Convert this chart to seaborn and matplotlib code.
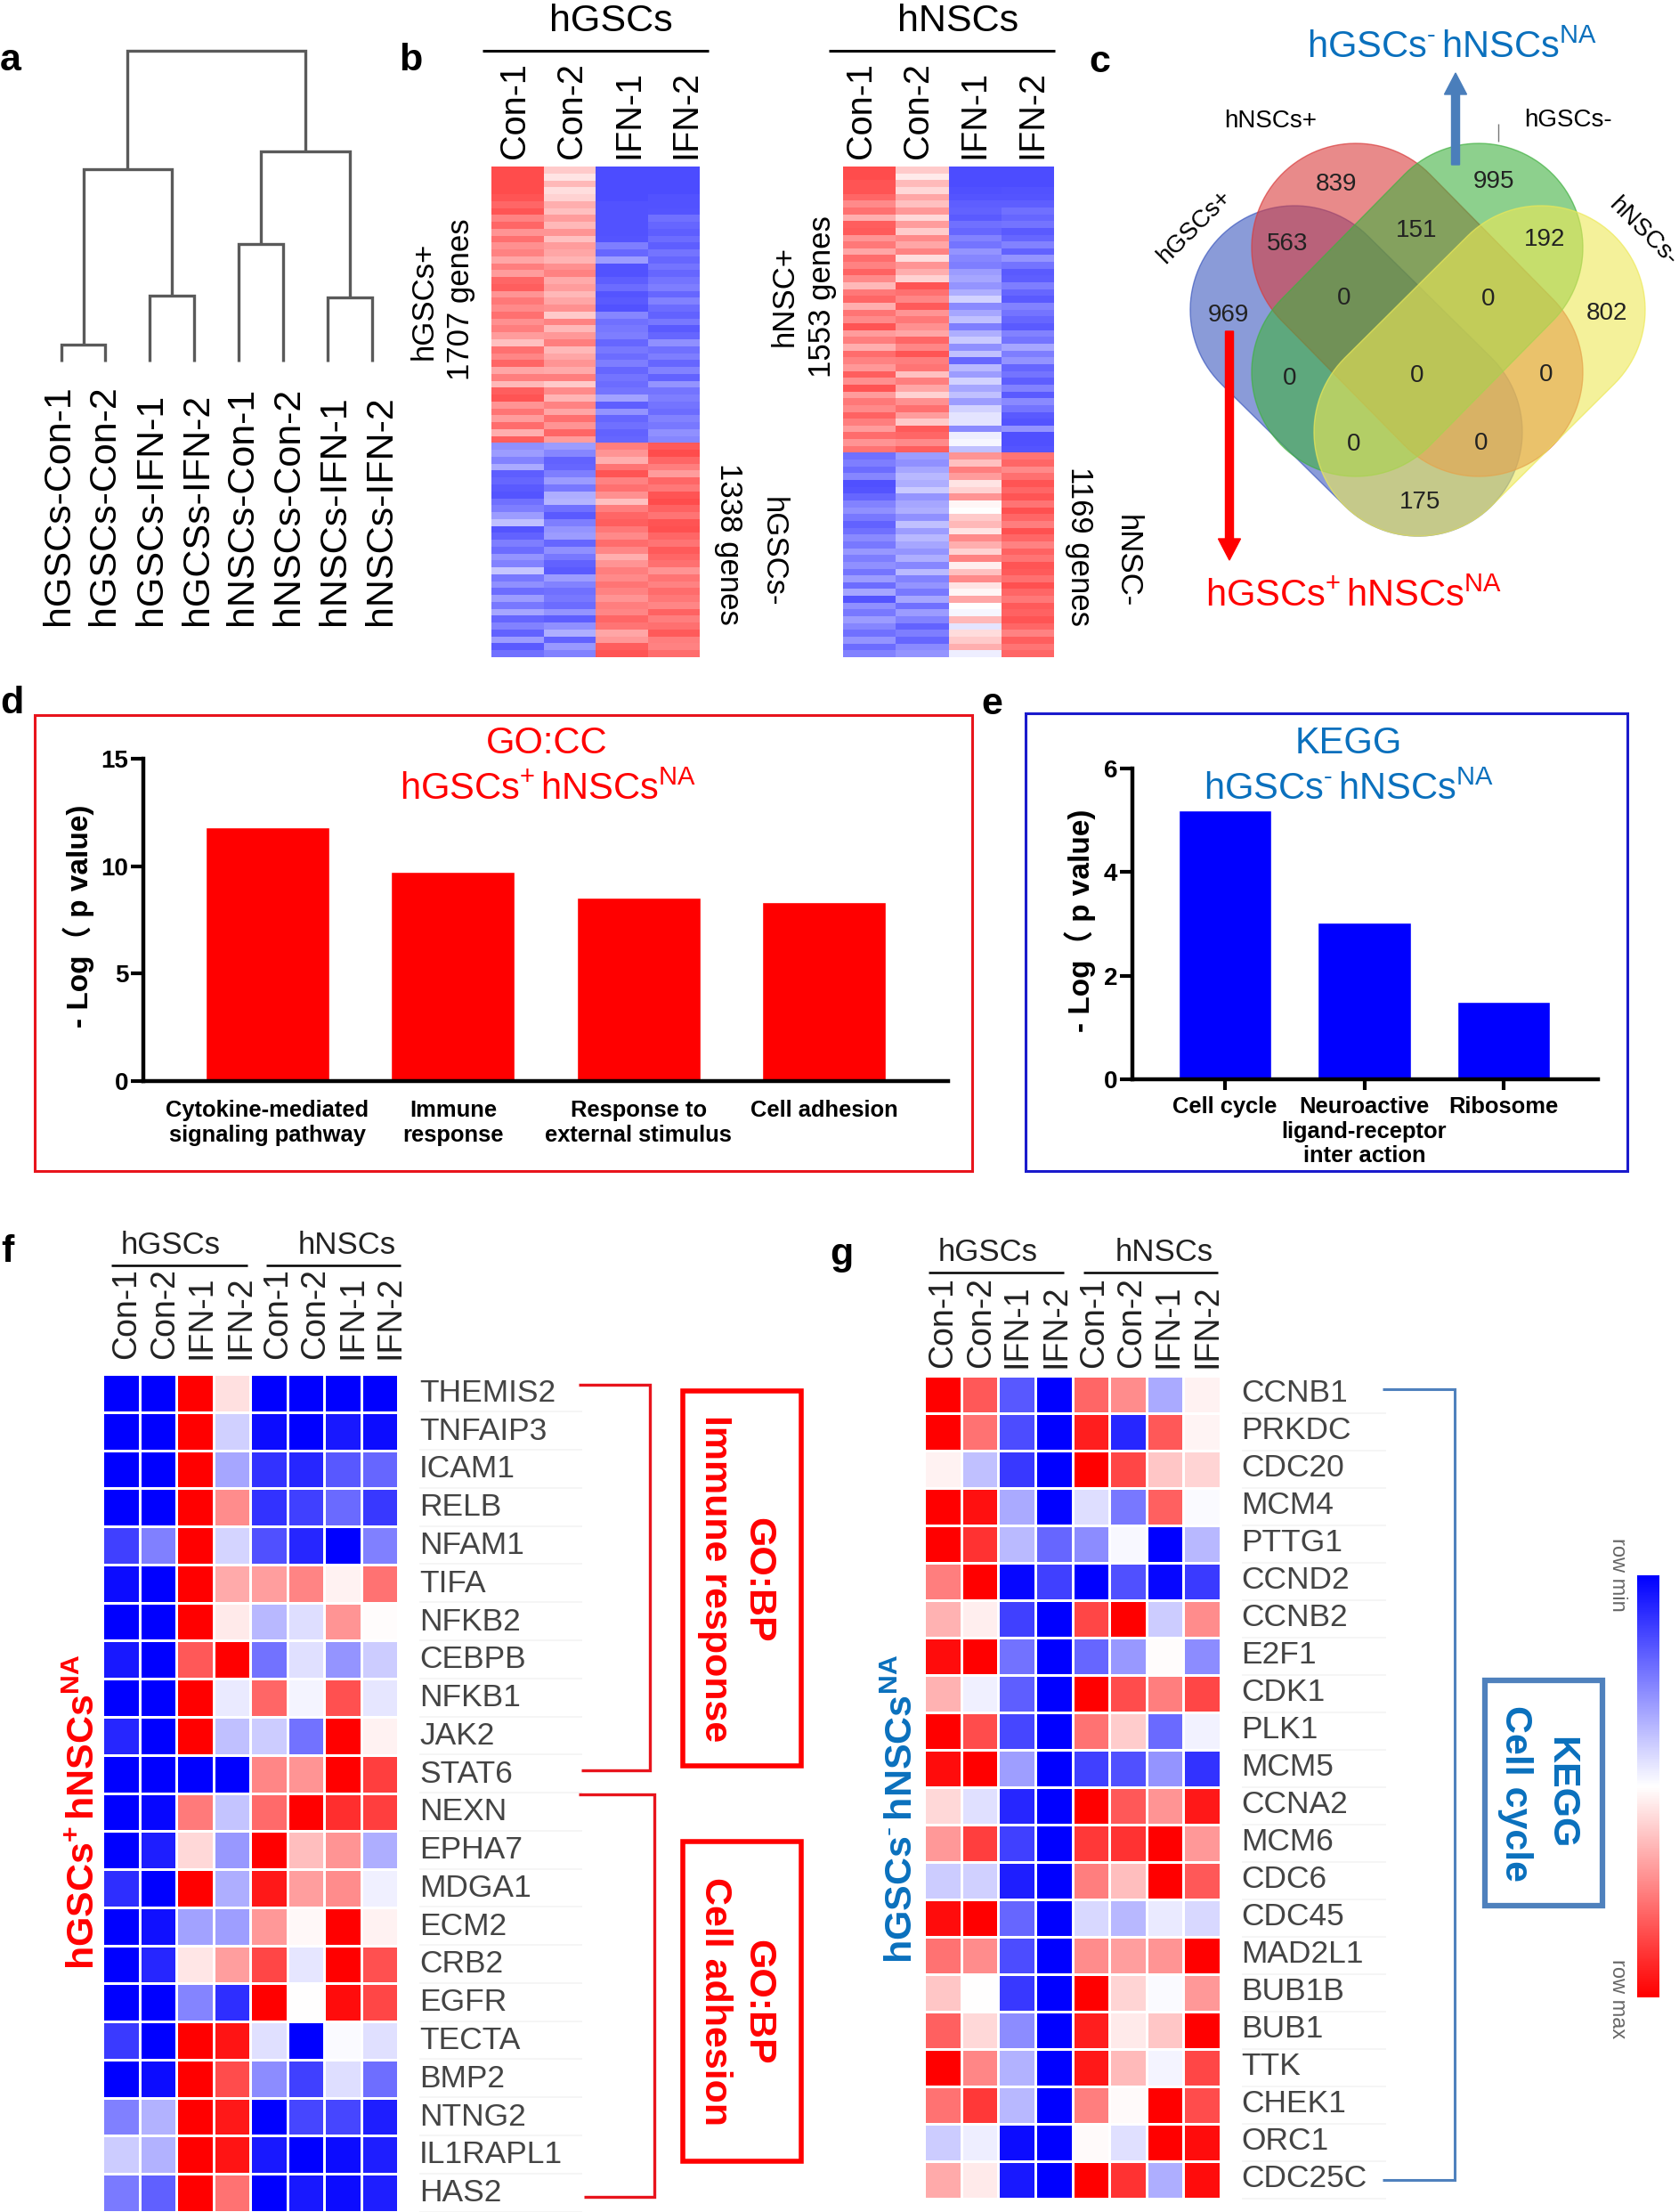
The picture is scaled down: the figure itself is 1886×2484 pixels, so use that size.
import numpy as np
import pandas as pd
import matplotlib
matplotlib.use("Agg")
import matplotlib.pyplot as plt
from matplotlib import patches
import seaborn as sns

# ---------------- data ----------------
sample_labels = ["hGSCs-Con-1", "hGSCs-Con-2", "hGSCs-IFN-1", "hGCSs-IFN-2",
                 "hNSCs-Con-1", "hNSCs-Con-2", "hNSCs-IFN-1", "hNSCs-IFN-2"]
# dendrogram: (left x, right x, parent-left height, parent-right height, merge height)
dendro_merges = [(0, 1, 0, 0, 19), (2, 3, 0, 0, 74), (4, 5, 0, 0, 132), (6, 7, 0, 0, 72),
                 (0.5, 2.5, 19, 74, 216), (4.5, 6.5, 132, 72, 236), (1.5, 5.5, 216, 236, 349)]

conds = ["Con-1", "Con-2", "IFN-1", "IFN-2"]
hgsc_up = [[1.0,.30,-1,-1],[1.0,.15,-1,-1],[1.0,.40,-1,-1],[1.0,.18,-1,-1],[.95,.25,-1,-.97],
 [.85,.45,-.97,-.97],[.95,.35,-.97,-.95],[.70,.55,-.97,-.80],[.85,.40,-.97,-.85],[.60,.60,-.97,-.90],
 [.80,.35,-.95,-.82],[.62,.55,-.72,-.90],[.70,.50,-.85,-.78],[.50,.42,-.55,-.85],[.72,.62,-.97,-.78],
 [.55,.70,-.97,-.85],[.85,.48,-.90,-.78],[.90,.55,-.82,-.72],[.60,.40,-.95,-.85],[.75,.50,-.92,-.70],
 [.65,.62,-.97,-.82],[.80,.30,-.68,-.88],[.62,.70,-.80,-.75],[.72,.40,-.75,-.92],[.55,.58,-.72,-.85],
 [.35,.72,-.85,-.62],[.80,.40,-.75,-.80],[.68,.50,-.82,-.72],[.85,.60,-.72,-.85],[.50,.48,-.85,-.70],
 [.72,.72,-.78,-.88],[.40,.30,-.82,-.60],[.90,.65,-.78,-.78],[.95,.42,-.52,-.72],[.60,.70,-.90,-.78],
 [.78,.50,-.60,-.82],[.55,.80,-.85,-.70],[.82,.60,-.80,-.75],[.45,.85,-.88,-.62],[.90,.55,-.85,-.68]]
hgsc_down = [[-.62,-.55,.72,.92],[-.55,-.68,.60,1.0],[-.70,-.88,.45,.85],[-.48,-.85,.78,.72],[-.90,-.72,.95,.55],
 [-.85,-.55,.70,.85],[-.92,-.75,.80,.75],[-.95,-.45,.62,.95],[-.80,-.42,.35,1.0],[-.72,-.80,.72,.88],
 [-.55,-.92,.85,.78],[-.35,-.72,.90,.95],[-.95,-.60,.75,.98],[-.88,-.55,.65,.85],[-.72,-.85,.82,.78],
 [-.82,-.62,.68,.92],[-.60,-.75,.45,.85],[-.70,-.88,.60,.80],[-.32,-.92,.72,.60],[-.75,-.55,.65,.78],
 [-.62,-.70,.78,.70],[-.82,-.80,.70,.82],[-.55,-.75,.60,.75],[-.75,-.82,.72,.68],[-.50,-.60,.68,.88],
 [-.85,-.90,.85,.72],[-.70,-.62,.78,.80],[-.88,-.45,.50,.92],[-.55,-.88,.58,.72],[-.92,-.58,.90,.70],[-.80,-.70,.95,.82]]
hnsc_up = [[1.0,.30,-1,-1],[1.0,.12,-1,-1],[.95,.38,-1,-1],[.95,.22,-.98,-.97],[.85,.50,-.96,-.96],
 [.65,.35,-.90,-.90],[.80,.58,-.88,-.80],[.45,.22,-.92,-.85],[.90,.55,-.80,-.78],[.92,.28,-.85,-.92],
 [.60,.65,-.70,-.85],[.75,.50,-.78,-.70],[.50,.70,-.60,-.88],[.82,.20,-.68,-.60],[.70,.60,-.72,-.78],
 [.88,.45,-.55,-.92],[.65,.25,-.50,-.90],[.40,.95,-.60,-.72],[.75,.80,-.45,-.85],[.85,.68,-.25,-.92],
 [.45,.92,-.65,-.70],[.78,.60,-.50,-.78],[.65,.75,-.35,-.85],[.95,.62,-.72,-.92],[.55,.50,-.45,-.70],
 [.72,.85,-.30,-.78],[.45,.68,-.62,-.50],[.82,.95,-.35,-.72],[.70,.72,-.85,-.60],[.58,.78,-.40,-.85],
 [.90,.35,-.55,-.78],[.62,.72,-.25,-.90],[.95,.50,-.50,-.70],[.55,.25,-.35,-.92],[.75,.62,-.55,-.65],
 [.65,.80,-.25,-.78],[.88,.55,-.15,-.92],[.72,.30,-.15,-.95],[.55,.92,-.65,-.60],[.82,.85,-.10,-.98],
 [.60,.65,-.05,-.98],[.78,.90,-.35,-.95]]
hnsc_down = [[-.80,-.55,.60,.78],[-.72,-.62,.35,.85],[-.82,-.50,.72,.65],[-.68,-.40,.55,.80],[-.98,-.45,.15,.95],
 [-.95,-.30,.25,.85],[-.85,-.60,.60,.95],[-.70,-.50,.05,.78],[-.62,-.45,.00,.98],[-.75,-.62,.30,.85],
 [-.88,-.35,.40,.72],[-.80,-.55,.15,.98],[-.65,-.40,.65,.85],[-.75,-.50,.45,.70],[-.58,-.60,.25,.88],
 [-.72,-.45,.70,.78],[-.62,-.68,.10,.95],[-.78,-.38,.35,.92],[-.55,-.70,.65,.80],[-.82,-.60,.15,.98],
 [-.50,-.75,.05,.85],[-.95,-.50,.50,.75],[-.62,-.80,.00,.92],[-.75,-.55,-.05,.88],[-.55,-.70,.40,.95],
 [-.68,-.88,-.15,.85],[-.80,-.72,.20,.70],[-.60,-.85,.30,.90],[-.82,-.65,.45,.78],[-.70,-.60,-.10,.85]]

venn_counts = ["839", "995", "563", "151", "192", "0", "0", "969", "802", "0", "0", "0", "0", "0", "175"]
venn_count_xy = [(1501,207),(1678,204),(1446,274),(1591,259),(1735,269),(1510,335),(1672,336),(1380,354),
                 (1805,352),(1449,425),(1592,422),(1737,421),(1521,499),(1664,498),(1595,564)]

go_terms = ["Cytokine-mediated\nsignaling pathway", "Immune\nresponse", "Response to\nexternal stimulus", "Cell adhesion"]
go_values = [11.8, 9.74, 8.54, 8.33]
kegg_terms = ["Cell cycle", "Neuroactive\nligand-receptor\ninter action", "Ribosome"]
kegg_values = [5.19, 3.02, 1.5]

samples8 = ["Con-1", "Con-2", "IFN-1", "IFN-2"] * 2
genes_f = ["THEMIS2","TNFAIP3","ICAM1","RELB","NFAM1","TIFA","NFKB2","CEBPB","NFKB1","JAK2","STAT6",
           "NEXN","EPHA7","MDGA1","ECM2","CRB2","EGFR","TECTA","BMP2","NTNG2","IL1RAPL1","HAS2"]
values_f = [[-1,-1,1,.12,-1,-1,-1,-1],[-1,-1,1,-.18,-.95,-1,-.9,-.95],[-1,-1,1,-.35,-.8,-.85,-.65,-.6],
 [-1,-1,1,.45,-.8,-.75,-.58,-.78],[-.75,-.5,1,-.17,-.68,-.85,-1,-.5],[-.95,-1,1,.33,.38,.48,.05,.55],
 [-1,-1,1,.08,-.28,-.13,.42,.01],[-.9,-1,.65,1,-.55,-.12,-.42,-.2],[-1,-1,1,-.08,.6,-.04,.68,-.1],
 [-.85,-1,1,-.25,-.2,-.55,1,.05],[-1,-1,-1,-1,.47,.42,1,.75],[-1,-.97,.52,-.23,.58,1,.82,.75],
 [-1,-.88,.15,-.4,1,.25,.42,-.32],[-.82,-1,1,-.32,.9,.38,.45,-.06],[-1,-.93,-.36,-.38,.4,.03,1,.05],
 [-1,-.85,.1,.38,.72,-.1,1,.68],[-1,-1,-.48,-.82,1,0,.95,.72],[-.77,-1,1,.92,-.12,-1,-.02,-.12],
 [-1,-.95,1,.7,-.45,-.75,-.13,-.57],[-.5,-.3,1,.9,-1,-.72,-.72,-.88],[-.2,-.3,1,.92,-.9,-1,-.95,-.88],
 [-.52,-.62,1,.55,-1,-.9,-.95,-.88]]
genes_g = ["CCNB1","PRKDC","CDC20","MCM4","PTTG1","CCND2","CCNB2","E2F1","CDK1","PLK1","MCM5","CCNA2",
           "MCM6","CDC6","CDC45","MAD2L1","BUB1B","BUB1","TTK","CHEK1","ORC1","CDC25C"]
values_g = [[1,.65,-.65,-1,.6,.45,-.33,.05],[1,.55,-.7,-1,.88,-.85,.65,.04],[.05,-.25,-.78,-1,1,.72,.22,.17],
 [1,.93,-.33,-1,-.13,-.53,.62,-.02],[1,.8,-.27,-.6,-.45,-.03,-1,-.28],[.5,1,-.97,-.75,-1,-.68,-.97,-.77],
 [.3,.07,-.75,-1,.72,1,-.2,.45],[.95,1,-.55,-1,-.6,-.4,.01,-.45],[.3,-.06,-.63,-1,1,.7,.5,.72],
 [1,.7,-.72,-1,.55,.2,-.58,-.05],[.95,1,-.38,-1,-.75,-.68,-.42,-.8],[.15,-.12,-.85,-1,1,.65,.42,.9],
 [.4,.75,-.75,-1,.78,.8,1,.4],[-.2,-.18,-.88,-1,.5,.25,1,.65],[.95,1,-.6,-1,-.15,-.28,-.08,-.15],
 [.55,.45,-.7,-1,.45,.38,.42,1],[.22,0,-.78,-1,1,.17,-.02,.4],[.62,.15,-.45,-1,.88,.08,.22,1],
 [1,.47,-.3,-1,.9,.27,-.04,.72],[.55,.78,-.28,-1,.5,.02,1,.7],[-.2,-.07,-.95,-1,.02,-.12,1,.95],
 [.33,.08,-.9,-1,1,.8,-.32,.95]]

# ---------------- set-up ----------------
W, H = 1886, 2484
sns.set_theme(style="white")
FONT = "Liberation Sans"
plt.rcParams["font.family"] = [FONT, "DejaVu Sans"]
plt.rcParams["mathtext.fontset"] = "custom"
plt.rcParams["mathtext.rm"] = FONT
plt.rcParams["mathtext.bf"] = FONT + ":bold"
plt.rcParams["mathtext.it"] = FONT + ":italic"

RED = "#ff0000"
BLUE_T = "#0a70bd"
fig = plt.figure(figsize=(W / 100, H / 100), dpi=100, facecolor="white")

def px_axes(l, t, r, b):
    return fig.add_axes([l / W, 1 - b / H, (r - l) / W, (b - t) / H])

ov = fig.add_axes([0, 0, 1, 1], zorder=10)
ov.set_xlim(0, W); ov.set_ylim(H, 0); ov.axis("off"); ov.patch.set_alpha(0)

def T(x, y, s, size=25, rot=0, color="black", weight="normal", ha="center", va="center", **kw):
    return ov.text(x, y, s, fontsize=size, rotation=rot, color=color, fontweight=weight,
                   ha=ha, va=va, rotation_mode="anchor" if rot in (45, -45) else "default", **kw)

def L(xs, ys, color="black", lw=2.0, **kw):
    ov.plot(xs, ys, color=color, lw=lw, solid_capstyle="butt", solid_joinstyle="miter", **kw)

def box(l, t, r, b, color, lw):
    ov.add_patch(patches.Rectangle((l, t), r - l, b - t, fill=False, edgecolor=color, lw=lw, joinstyle="miter"))

# panel letters
for s, x, y in [("a", 12, 68), ("b", 461, 68), ("c", 1235, 70), ("d", 13, 790),
                ("e", 1114, 791), ("f", 8, 1406), ("g", 945, 1409)]:
    T(x, y, s, size=31, weight="bold")

# ---------------- a: dendrogram ----------------
ax_a = px_axes(68.6, 57, 417.8, 406)
ax_a.set_xlim(0, 7); ax_a.set_ylim(0, 349); ax_a.axis("off")
for x0, x1, h0, h1, h in dendro_merges:
    ax_a.plot([x0, x0, x1, x1], [h0, h, h, h1], color="#5a5a5a", lw=2.4, clip_on=False,
              solid_joinstyle="miter", solid_capstyle="butt")
for lab, x in zip(sample_labels, [66, 117, 170, 222, 272, 324, 376, 428]):
    T(x, 702, lab, size=31, rot=90, va="bottom")

# ---------------- b: large heat maps ----------------
def big_heat(up, down, l, r):
    ax = px_axes(l, 187, r, 738)
    sns.heatmap(pd.DataFrame(up + down, columns=conds), ax=ax, cmap="bwr", vmin=-1.43, vmax=1.43,
                cbar=False, xticklabels=False, yticklabels=False)
    return ax

big_heat(hgsc_up, hgsc_down, 552, 786)
big_heat(hnsc_up, hnsc_down, 947, 1184)
for xs, cx, title, lx in [([578, 642, 706, 770], 686, "hGSCs", (542, 796)),
                          ([967, 1031, 1094, 1159], 1076, "hNSCs", (931, 1185))]:
    T(cx, 24, title, size=31)
    L(lx, [57, 57], lw=2.2)
    for x, c in zip(xs, conds):
        T(x, 178, c, size=28.5, rot=90, va="bottom")
T(476, 338, "hGSCs+", size=25, rot=90)
T(518, 336, "1707 genes", size=25, rot=90)
T(819, 611, "1338 genes", size=25, rot=-90)
T(868, 620, "hGSCs-", size=25, rot=-90)
T(881, 332, "hNSC+", size=25, rot=90)
T(923, 333, "1553 genes", size=25, rot=90)
T(1212, 613, "1169 genes", size=25, rot=-90)
T(1266, 630, "hNSC-", size=25, rot=-90)

# ---------------- c: Venn ----------------
def stadium(c1, c2, r, color):
    c1, c2 = np.array(c1, float), np.array(c2, float)
    a = np.arctan2(*(c2 - c1)[::-1])
    t1 = np.linspace(a + np.pi / 2, a + 3 * np.pi / 2, 60)
    t2 = np.linspace(a - np.pi / 2, a + np.pi / 2, 60)
    pts = np.vstack([c1 + r * np.c_[np.cos(t1), np.sin(t1)], c2 + r * np.c_[np.cos(t2), np.sin(t2)]])
    rgb = matplotlib.colors.to_rgb(color)
    ov.add_patch(patches.Polygon(pts, closed=True, facecolor=rgb + (0.6,), edgecolor=rgb + (0.7,), lw=1.0, zorder=1))

r = 117
stadium((1337 + r, 231 + r), (1710 - r, 602 - r), r, "#3c58be")
stadium((1406 + r, 161 + r), (1778 - r, 535 - r), r, "#d93c3c")
stadium((1778 - r, 161 + r), (1406 + r, 535 - r), r, "#41b141")
stadium((1848 - r, 231 + r), (1476 + r, 602 - r), r, "#ede957")
for s, (x, y) in zip(venn_counts, venn_count_xy):
    T(x, y, s, size=20, color="#222222", zorder=6)
T(1427, 136, "hNSCs+", size=20)
T(1761, 135, "hGSCs-", size=20)
T(1342, 255, "hGSCs+", size=20, rot=45)
T(1845, 260, "hNSCs-", size=20, rot=-45)
L([1683, 1683], [139, 159], color="#777777", lw=1)
ov.add_patch(patches.FancyArrow(1635, 185, 0, -103, width=9, head_width=25, head_length=24,
                                length_includes_head=True, color="#4a7ebb", zorder=5))
ov.add_patch(patches.FancyArrow(1381, 372, 0, 257, width=9, head_width=25, head_length=24,
                                length_includes_head=True, color=RED, zorder=5))
T(1631, 54, r"$\mathrm{hGSCs^{\text{-}}\,hNSCs^{NA}}$", size=30, color=BLUE_T)
T(1521, 670, r"$\mathrm{hGSCs^{+}\,hNSCs^{NA}}$", size=30, color=RED)

# ---------------- d / e: bars ----------------
def bars(rect, terms, vals, color, ymax, yt, xlim, tick_len, pad, ylab_x, ylab_y):
    ax = px_axes(*rect)
    sns.barplot(x=terms, y=vals, color=color, saturation=1, width=0.667, ax=ax)
    ax.set_xlim(*xlim); ax.set_ylim(0, ymax)
    ax.set_yticks(yt)
    sns.despine(ax=ax)
    for s in ("left", "bottom"):
        ax.spines[s].set_linewidth(3.2); ax.spines[s].set_color("black")
    ax.tick_params(axis="y", length=10, width=3, labelsize=20, pad=2, left=True, color="black", labelcolor="black")
    ax.tick_params(axis="x", length=tick_len, width=3, labelsize=18.4, pad=pad, bottom=tick_len > 0,
                   color="black", labelcolor="black")
    for t in ax.get_xticklabels() + ax.get_yticklabels():
        t.set_fontweight("bold")
    ax.set_xlabel("")
    ax.set_ylabel("- Log（ p value)", fontsize=24, fontweight="bold", color="black",
                  family=["Liberation Sans", "Noto Sans CJK SC"])
    ax.yaxis.label.set_va("center")
    l, t, r_, b = rect
    ax.yaxis.set_label_coords((ylab_x - l) / (r_ - l), (b - ylab_y) / (b - t))
    return ax

bars((161, 852, 1065, 1214), go_terms, go_values, RED, 15, [0, 5, 10, 15], (-0.67, 3.67), 0, 15, 88, 1029)
bars((1272, 863, 1795, 1212), kegg_terms, kegg_values, "#0000ff", 6, [0, 2, 4, 6], (-0.665, 2.677), 8.6, 5, 1213, 1034)
box(39, 803, 1092, 1315, "#e8141c", 2.2)
box(1152, 801, 1828, 1315, "#1a1acc", 2.2)
T(614, 835, "GO:CC", size=30, color=RED)
T(616, 887, r"$\mathrm{hGSCs^{+}\,hNSCs^{NA}}$", size=30, color=RED)
T(1515, 835, "KEGG", size=30, color=BLUE_T)
T(1515, 887, r"$\mathrm{hGSCs^{\text{-}}\,hNSCs^{NA}}$", size=30, color=BLUE_T)

# ---------------- f: heat map ----------------
ax_f = px_axes(115, 1543, 447, 2484)
sns.heatmap(pd.DataFrame(values_f, index=genes_f, columns=samples8), ax=ax_f, cmap="bwr", vmin=-1, vmax=1,
            cbar=False, linewidths=1.9, linecolor="white", xticklabels=False, yticklabels=False)
for i, x in enumerate([142, 185, 227, 270, 312, 354.5, 397, 439]):
    T(x, 1526, samples8[i], size=27, rot=90, va="bottom", color="#222222")
for i, g in enumerate(genes_f):
    y = 1543 + 42.77 * (i + 0.5)
    T(471, y, g, size=25.5, ha="left", color="#444444")
    L([471, 654], [y + 21, y + 21], color="#f4f4f4", lw=1.2)
T(192, 1398, "hGSCs", size=25, color="#222222")
T(390, 1398, "hNSCs", size=25, color="#222222")
L([125, 278], [1421, 1421], lw=1.8)
L([299, 450], [1421, 1421], lw=1.8)
T(95, 2035, r"$\mathbf{hGSCs^{+}\,hNSCs^{NA}}$", size=31, rot=90, color=RED)
L([650, 730, 730, 653], [1554.5, 1554.5, 1988, 1988], color="#e8141c", lw=2.4)
L([650, 734.5, 734.5, 656], [2015, 2015, 2467, 2467], color="#e8141c", lw=2.4)
box(767, 1562, 900, 1983, RED, 4)
box(767, 2068, 900, 2427, RED, 4)
T(851, 1774, "GO:BP", size=31, rot=-90, color=RED, weight="bold")
T(803, 1773, "Immune response", size=31, rot=-90, color=RED, weight="bold")
T(851, 2248, "GO:BP", size=31, rot=-90, color=RED, weight="bold")
T(803, 2248, "Cell adhesion", size=31, rot=-90, color=RED, weight="bold")

# ---------------- g: heat map + colour bar ----------------
ax_g = px_axes(1038, 1545, 1371, 2469)
cax = px_axes(1838.5, 1769, 1863.5, 2243)
sns.heatmap(pd.DataFrame(values_g, index=genes_g, columns=samples8), ax=ax_g, cmap="bwr", vmin=-1, vmax=1,
            cbar=True, cbar_ax=cax, linewidths=1.9, linecolor="white", xticklabels=False, yticklabels=False)
cax.invert_yaxis()
cax.tick_params(left=False, right=False, labelleft=False, labelright=False)
ax_g.collections[0].colorbar.outline.set_visible(False)
for i, x in enumerate([1059, 1102, 1143, 1186, 1229, 1271, 1313, 1356]):
    T(x, 1535.5, samples8[i], size=27, rot=90, va="bottom", color="#222222")
for i, g in enumerate(genes_g):
    y = 1545 + 42 * (i + 0.5)
    T(1394, y - 1, g, size=25.5, ha="left", color="#444444")
    L([1395, 1557], [y + 21, y + 21], color="#f4f4f4", lw=1.2)
T(1110, 1406, "hGSCs", size=25, color="#222222")
T(1308, 1406, "hNSCs", size=25, color="#222222")
L([1043, 1195], [1429, 1429], lw=1.8)
L([1217, 1368], [1429, 1429], lw=1.8)
T(1014, 2032, r"$\mathbf{hGSCs^{\text{-}}\,hNSCs^{NA}}$", size=31, rot=90, color=BLUE_T)
L([1553, 1634, 1634, 1553], [1560, 1560, 2447.6, 2447.6], color="#4f81bd", lw=2.2)
box(1668, 1887, 1800, 2140, "#4f81bd", 4.5)
T(1753, 2013, "KEGG", size=31, rot=-90, color=BLUE_T, weight="bold")
T(1702, 2014, "Cell cycle", size=31, rot=-90, color=BLUE_T, weight="bold")
T(1817, 1768, "row min", size=17, rot=-90, color="#666666")
T(1817, 2245, "row max", size=17, rot=-90, color="#666666")

fig.savefig("out.png", dpi=100, facecolor="white")
